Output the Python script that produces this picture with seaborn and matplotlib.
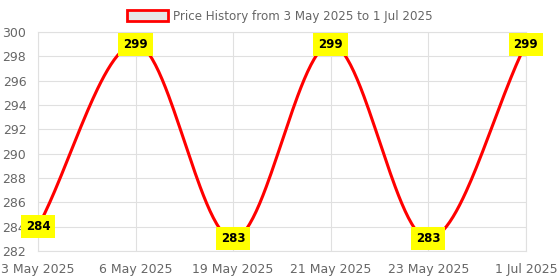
import numpy as np
import pandas as pd
import matplotlib
matplotlib.use('Agg')
import matplotlib.pyplot as plt
from matplotlib.patches import Patch
import seaborn as sns

dates = ['3 May 2025', '6 May 2025', '19 May 2025', '21 May 2025', '23 May 2025', '1 Jul 2025']
prices = [284, 299, 283, 299, 283, 299]
legend_label = 'Price History from 3 May 2025 to 1 Jul 2025'


# monotone cubic (Fritsch-Carlson) just for drawing a smooth line through the points
def monotone_curve(y, n=60):
    y = np.asarray(y, dtype=float)
    x = np.arange(len(y), dtype=float)
    d = np.diff(y)
    m = np.zeros(len(y))
    m[0], m[-1] = d[0], d[-1]
    for i in range(1, len(y) - 1):
        if d[i - 1] * d[i] > 0:
            m[i] = (d[i - 1] + d[i]) / 2
    xs, ys = [], []
    for i in range(len(y) - 1):
        t = np.linspace(0, 1, n)
        h00 = 2 * t**3 - 3 * t**2 + 1
        h10 = t**3 - 2 * t**2 + t
        h01 = -2 * t**3 + 3 * t**2
        h11 = t**3 - t**2
        xs.append(x[i] + t)
        ys.append(h00 * y[i] + h10 * m[i] + h01 * y[i + 1] + h11 * m[i + 1])
    return np.concatenate(xs), np.concatenate(ys)


sns.set_style('white')
plt.rcParams['font.family'] = ['DejaVu Sans']

fig = plt.figure(figsize=(5.6, 2.8), dpi=100)
ax = fig.add_axes([0.068, 0.104, 0.871, 0.782])

cx, cy = monotone_curve(prices)
sns.lineplot(x=cx, y=cy, ax=ax, color='#ff0000', linewidth=2.2, sort=False)

for i, p in enumerate(prices):
    ax.text(i, p, str(p), ha='center', va='center', fontsize=8.5, fontweight='bold', color='black',
            bbox=dict(boxstyle='square,pad=0.42', facecolor='#ffff00', edgecolor='none'), zorder=5, clip_on=False)

ax.set_xlim(0, len(dates) - 1)
ax.set_ylim(282, 300)
ax.set_xticks(range(len(dates)))
ax.set_xticklabels(dates)
ax.set_yticks(np.arange(282, 301, 2))
ax.grid(True, color='#e0e0e0', linewidth=0.8)
ax.tick_params(axis='both', colors='#dddddd', labelcolor='#666666', labelsize=9, length=5, width=0.8)
for s in ax.spines.values():
    s.set_color('#e0e0e0')
    s.set_linewidth(0.8)
ax.set_axisbelow(True)

handle = Patch(facecolor='#e6e6e6', edgecolor='#ff0000', linewidth=2)
fig.legend(handles=[handle], labels=[legend_label], loc='upper center', bbox_to_anchor=(0.5, 1.0),
           frameon=False, fontsize=8.6, labelcolor='#666666', handlelength=3.4, handleheight=1.1,
           handletextpad=0.5, borderpad=0.3)

fig.savefig('out.png', dpi=100)
